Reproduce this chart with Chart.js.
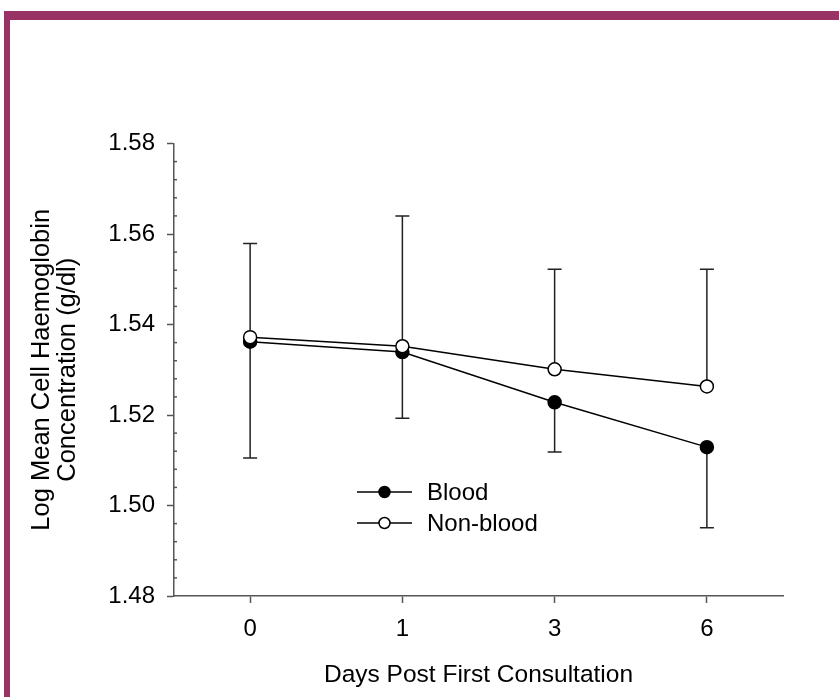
<!DOCTYPE html>
<html>
<head>
<meta charset="utf-8">
<title>Log MCHC by day</title>
<script src="https://cdn.jsdelivr.net/npm/chart.js@4/dist/chart.umd.min.js"></script>
<style>
  html, body { margin: 0; padding: 0; background: #fff; }
  #wrap { position: relative; width: 839px; height: 697px; overflow: hidden; }
  /* maroon frame along the top and left edge */
  #frame { position: absolute; left: 4px; top: 11px; right: 0; bottom: 0;
           border-top: 9px solid #993366; border-left: 6px solid #993366; }
  #chart { position: absolute; left: 0; top: 0; }
</style>
</head>
<body>
<div id="wrap">
  <div id="frame"></div>
  <canvas id="chart" width="839" height="697"></canvas>
</div>
<script>
// ---- data ----
var days = ['0', '1', '3', '6'];
var bloodMean = [1.5362, 1.5339, 1.5228, 1.5129];
var nonBloodMean = [1.5372, 1.5352, 1.5301, 1.5263];
// error bars: blood plotted downward, non-blood upward
var bloodErr = [0.0257, 0.0146, 0.0110, 0.0178];
var nonBloodErr = [0.0207, 0.0288, 0.0221, 0.0259];
var yTicks = [1.48, 1.50, 1.52, 1.54, 1.56, 1.58];

var INK = '#000';
var AXIS = '#555';
var FONT = "'Liberation Sans', Arial, Helvetica, sans-serif";

Chart.defaults.font.family = FONT;
Chart.defaults.color = INK;

// one-sided error bars with caps, drawn behind the lines and markers
var errorBars = {
  id: 'errorBars',
  beforeDatasetsDraw: function (chart) {
    var ctx = chart.ctx, x = chart.scales.x, y = chart.scales.y;
    ctx.save();
    ctx.strokeStyle = '#222';
    ctx.lineWidth = 1.5;
    function bar(i, from, to) {
      var px = x.getPixelForValue(i);
      var y0 = y.getPixelForValue(from), y1 = y.getPixelForValue(to);
      ctx.beginPath();
      ctx.moveTo(px, y0); ctx.lineTo(px, y1);
      ctx.moveTo(px - 7, y1); ctx.lineTo(px + 7, y1);
      ctx.stroke();
    }
    days.forEach(function (d, i) {
      bar(i, bloodMean[i], bloodMean[i] - bloodErr[i]);
      bar(i, nonBloodMean[i], nonBloodMean[i] + nonBloodErr[i]);
    });
    ctx.restore();
  }
};

// small inward minor ticks on the y axis
var minorTicks = {
  id: 'minorTicks',
  afterDraw: function (chart) {
    var ctx = chart.ctx, y = chart.scales.y, left = chart.chartArea.left;
    ctx.save();
    ctx.strokeStyle = AXIS;
    ctx.lineWidth = 1.5;
    for (var k = 0; k < yTicks.length - 1; k++) {
      for (var m = 1; m < 5; m++) {
        var py = y.getPixelForValue(yTicks[k] + m * 0.004);
        ctx.beginPath(); ctx.moveTo(left, py); ctx.lineTo(left + 3, py); ctx.stroke();
      }
    }
    ctx.restore();
  }
};

// legend sitting inside the plot area
var innerLegend = {
  id: 'innerLegend',
  afterDraw: function (chart) {
    var ctx = chart.ctx;
    var rows = [chart.data.datasets[0], chart.data.datasets[1]];
    ctx.save();
    ctx.font = '24px ' + FONT;
    ctx.textBaseline = 'middle';
    ctx.fillStyle = INK;
    rows.forEach(function (ds, i) {
      var yy = 492 + i * 31;
      ctx.strokeStyle = INK;
      ctx.lineWidth = 1.5;
      ctx.beginPath(); ctx.moveTo(357, yy); ctx.lineTo(412, yy); ctx.stroke();
      ctx.beginPath(); ctx.arc(384.5, yy, 5.5, 0, Math.PI * 2);
      ctx.fillStyle = ds.pointBackgroundColor; ctx.fill(); ctx.stroke();
      ctx.fillStyle = INK;
      ctx.fillText(ds.label, 427, yy + 1);
    });
    ctx.restore();
  }
};

new Chart(document.getElementById('chart'), {
  type: 'line',
  data: {
    labels: days,
    datasets: [
      { label: 'Blood', data: bloodMean, order: 1,
        borderColor: INK, borderWidth: 1.5, pointRadius: 6.5, pointBorderWidth: 1.5,
        pointBackgroundColor: INK, pointBorderColor: INK, tension: 0 },
      { label: 'Non-blood', data: nonBloodMean, order: 0,
        borderColor: INK, borderWidth: 1.5, pointRadius: 6.5, pointBorderWidth: 1.5,
        pointBackgroundColor: '#fff', pointBorderColor: INK, tension: 0 }
    ]
  },
  options: {
    responsive: false,
    animation: false,
    layout: { padding: { top: 143.5, right: 56, left: 0, bottom: 0 } },
    plugins: { legend: { display: false }, tooltip: { enabled: false } },
    scales: {
      x: {
        offset: true,
        afterFit: function (s) { s.height = 101; },
        grid: { drawOnChartArea: false, drawTicks: true, tickLength: 7, tickColor: AXIS, tickWidth: 1.5, offset: false },
        border: { color: AXIS, width: 1.5 },
        ticks: { font: { size: 24 }, padding: 12, color: INK, maxRotation: 0 },
        title: { display: true, text: 'Days Post First Consultation', font: { size: 24.5 }, color: INK,
                 padding: { top: 0, bottom: 7 } }
      },
      y: {
        min: yTicks[0], max: yTicks[yTicks.length - 1],
        afterFit: function (s) { s.width = 174; },
        afterBuildTicks: function (s) { s.ticks = yTicks.map(function (v) { return { value: v }; }); },
        grid: { drawOnChartArea: false, drawTicks: true, tickLength: 7, tickColor: AXIS, tickWidth: 1.5 },
        border: { color: AXIS, width: 1.5 },
        ticks: { font: { size: 24 }, padding: 12, color: INK,
                 callback: function (v) { return Number(v).toFixed(2); } },
        title: { display: true, text: ['Log Mean Cell Haemoglobin', 'Concentration (g/dl)'],
                 font: { size: 25.5, lineHeight: 1.03 }, color: INK, padding: { top: 29, bottom: 0 } }
      }
    }
  },
  plugins: [errorBars, minorTicks, innerLegend]
});
</script>
</body>
</html>
